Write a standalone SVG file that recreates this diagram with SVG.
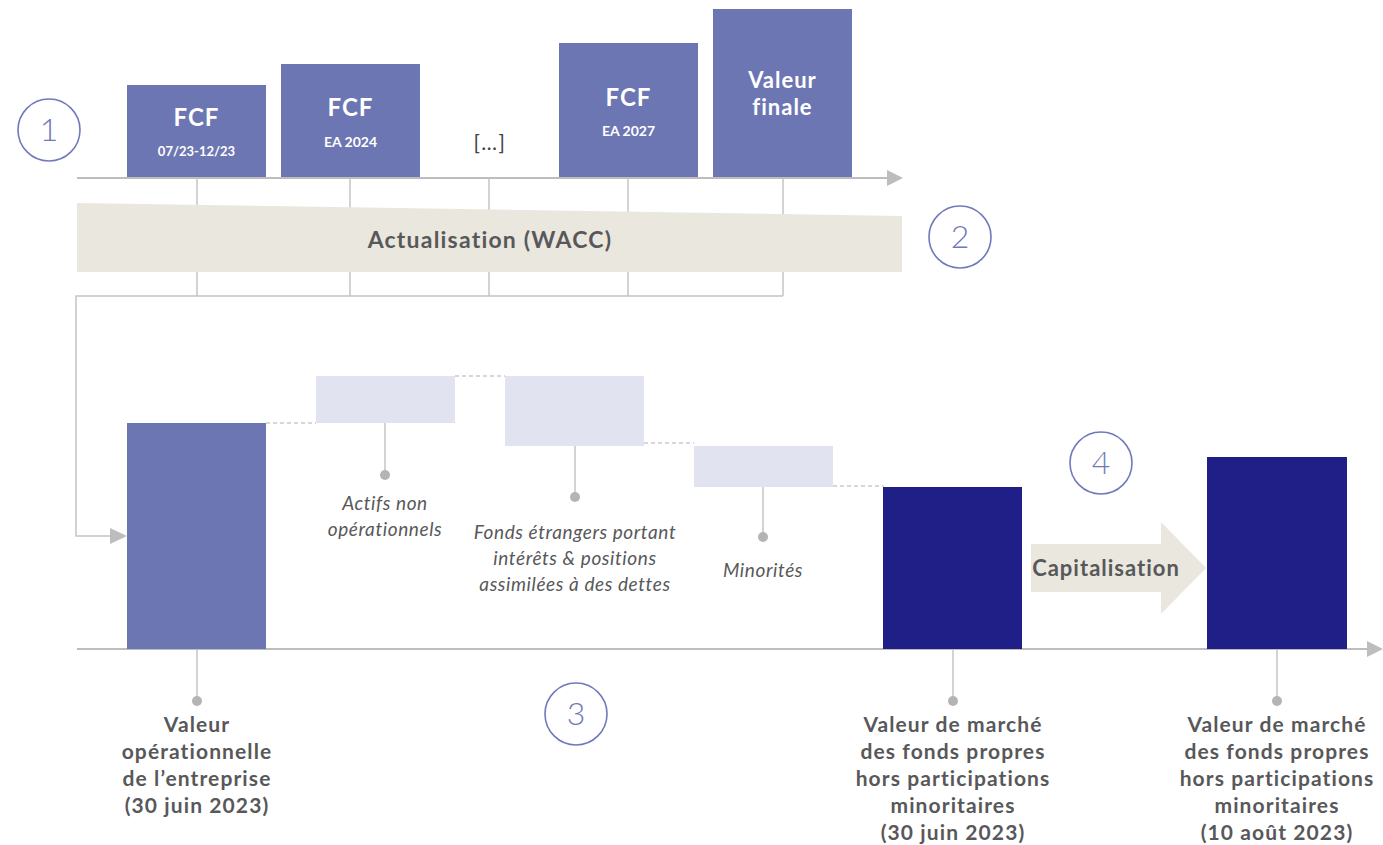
<svg xmlns="http://www.w3.org/2000/svg" width="1383" height="845" viewBox="0 0 1383 845">
<defs>
<style>
.mid{fill:#6C76B3}
.navy{fill:#1F1F87}
.light{fill:#E1E3F0}
.beige{fill:#E9E7DE}
.axis{stroke:#BDBDBD;stroke-width:2;fill:none}
.thin{stroke:#C4C4C4;stroke-width:1.5;fill:none}
.dash{stroke:#B0B0B0;stroke-width:1.2;stroke-dasharray:4 3;fill:none}
.dot{fill:#B4B4B4}
.ring{fill:none;stroke:#7079BB;stroke-width:1.6}
.num{font-family:Lato,"Open Sans",sans-serif;font-weight:300;font-size:32px;fill:#7079BB;text-anchor:middle}
.wt{font-family:Lato,"Open Sans",sans-serif;font-weight:700;fill:#FFFFFF;text-anchor:middle}
.bl{font-family:Lato,"Open Sans",sans-serif;font-weight:700;font-size:21px;letter-spacing:1.1px;fill:#58585A;text-anchor:middle}
.it{font-family:Lato,"Open Sans",sans-serif;font-style:italic;font-size:19px;letter-spacing:0.6px;fill:#58585A;text-anchor:middle}
</style>
</defs>
<rect width="1383" height="845" fill="#FFFFFF"/>

<g id="connectors">
<line class="axis" x1="77" y1="178" x2="888" y2="178"/>
<path d="M887,170 L903,178 L887,186 Z" fill="#BDBDBD"/>
<line class="thin" x1="197" y1="178" x2="197" y2="296"/>
<line class="thin" x1="350" y1="178" x2="350" y2="296"/>
<line class="thin" x1="489" y1="178" x2="489" y2="296"/>
<line class="thin" x1="628" y1="178" x2="628" y2="296"/>
<line class="thin" x1="783" y1="178" x2="783" y2="296"/>
<path class="thin" d="M783,296 L76,296 L76,536 L111,536"/>
<path d="M110,528 L127,536 L110,544 Z" fill="#BDBDBD"/>
<line class="axis" x1="77" y1="649" x2="1369" y2="649"/>
<path d="M1367,641 L1383,649 L1367,657 Z" fill="#BDBDBD"/>
<line class="dash" x1="266" y1="423" x2="316" y2="423"/>
<line class="dash" x1="455" y1="376" x2="505" y2="376"/>
<line class="dash" x1="644" y1="443" x2="694" y2="443"/>
<line class="dash" x1="833" y1="486" x2="884" y2="486"/>
<line class="thin" x1="385" y1="423" x2="385" y2="474"/>
<circle class="dot" cx="385" cy="475" r="5"/>
<line class="thin" x1="575" y1="446" x2="575" y2="496"/>
<circle class="dot" cx="575" cy="497" r="5"/>
<line class="thin" x1="763" y1="487" x2="763" y2="536"/>
<circle class="dot" cx="763" cy="537" r="5"/>
<line class="thin" x1="197" y1="650" x2="197" y2="700"/>
<circle class="dot" cx="197" cy="701" r="5"/>
<line class="thin" x1="953" y1="650" x2="953" y2="700"/>
<circle class="dot" cx="953" cy="701" r="5"/>
<line class="thin" x1="1277" y1="650" x2="1277" y2="700"/>
<circle class="dot" cx="1277" cy="701" r="5"/>
</g>

<g id="step1">
<circle class="ring" cx="49" cy="130" r="31"/>
<text class="num" x="49" y="141">1</text>
</g>
<g id="fcf1">
<rect class="mid" x="127" y="85" width="139" height="92"/>
<text class="wt" x="196.5" y="126" font-size="24" letter-spacing="1">FCF</text>
<text class="wt" x="196.5" y="156" font-size="13">07/23-12/23</text>
</g>
<g id="fcf2">
<rect class="mid" x="281" y="64" width="139" height="113"/>
<text class="wt" x="350.5" y="116" font-size="24" letter-spacing="1">FCF</text>
<text class="wt" x="350.5" y="147" font-size="14">EA 2024</text>
</g>
<g id="ellipsis">
<text x="490" y="150" font-family="Lato,'Open Sans',sans-serif" font-size="21" letter-spacing="1.5" fill="#444444" text-anchor="middle">[…]</text>
</g>
<g id="fcf3">
<rect class="mid" x="559" y="43" width="139" height="134"/>
<text class="wt" x="628.5" y="106" font-size="24" letter-spacing="1">FCF</text>
<text class="wt" x="628.5" y="136" font-size="14">EA 2027</text>
</g>
<g id="tv">
<rect class="mid" x="713" y="9" width="139" height="168"/>
<text class="wt" x="782.5" y="88" font-size="22" letter-spacing="1">Valeur</text>
<text class="wt" x="782.5" y="115" font-size="22" letter-spacing="1">finale</text>
</g>
<g id="discount">
<path class="beige" d="M77,203 L902,216 L902,272 L77,272 Z"/>
<text class="bl" x="490" y="248" style="font-size:23px;letter-spacing:1.2px">Actualisation (WACC)</text>
</g>
<g id="step2">
<circle class="ring" cx="960" cy="237" r="31"/>
<text class="num" x="960" y="248">2</text>
</g>

<g id="ev">
<rect class="mid" x="127" y="423" width="139" height="226"/>
<text class="bl" x="197" y="732">Valeur</text>
<text class="bl" x="197" y="759">opérationnelle</text>
<text class="bl" x="197" y="786">de l’entreprise</text>
<text class="bl" x="197" y="813">(30 juin 2023)</text>
</g>
<g id="nonop">
<rect class="light" x="316" y="376" width="139" height="47"/>
<text class="it" x="385" y="510">Actifs non</text>
<text class="it" x="385" y="536">opérationnels</text>
</g>
<g id="debt">
<rect class="light" x="505" y="376" width="139" height="70"/>
<text class="it" x="575" y="539">Fonds étrangers portant</text>
<text class="it" x="575" y="565">intérêts &amp; positions</text>
<text class="it" x="575" y="591">assimilées à des dettes</text>
</g>
<g id="minorities">
<rect class="light" x="694" y="446" width="139" height="41"/>
<text class="it" x="763" y="577">Minorités</text>
</g>
<g id="equity1">
<rect class="navy" x="883" y="487" width="139" height="162"/>
<text class="bl" x="953" y="732">Valeur de marché</text>
<text class="bl" x="953" y="759">des fonds propres</text>
<text class="bl" x="953" y="786">hors participations</text>
<text class="bl" x="953" y="813">minoritaires</text>
<text class="bl" x="953" y="840">(30 juin 2023)</text>
</g>
<g id="step3">
<circle class="ring" cx="576" cy="714" r="31"/>
<text class="num" x="576" y="725">3</text>
</g>
<g id="step4">
<circle class="ring" cx="1101" cy="463" r="31"/>
<text class="num" x="1101" y="474">4</text>
</g>
<g id="capitalisation">
<path class="beige" d="M1031,544 L1161,544 L1161,522 L1206,568 L1161,614 L1161,592 L1031,592 Z"/>
<text class="bl" x="1106" y="576" style="font-size:22px;letter-spacing:1px">Capitalisation</text>
</g>
<g id="equity2">
<rect class="navy" x="1207" y="457" width="140" height="192"/>
<text class="bl" x="1277" y="732">Valeur de marché</text>
<text class="bl" x="1277" y="759">des fonds propres</text>
<text class="bl" x="1277" y="786">hors participations</text>
<text class="bl" x="1277" y="813">minoritaires</text>
<text class="bl" x="1277" y="840">(10 août 2023)</text>
</g>
</svg>
